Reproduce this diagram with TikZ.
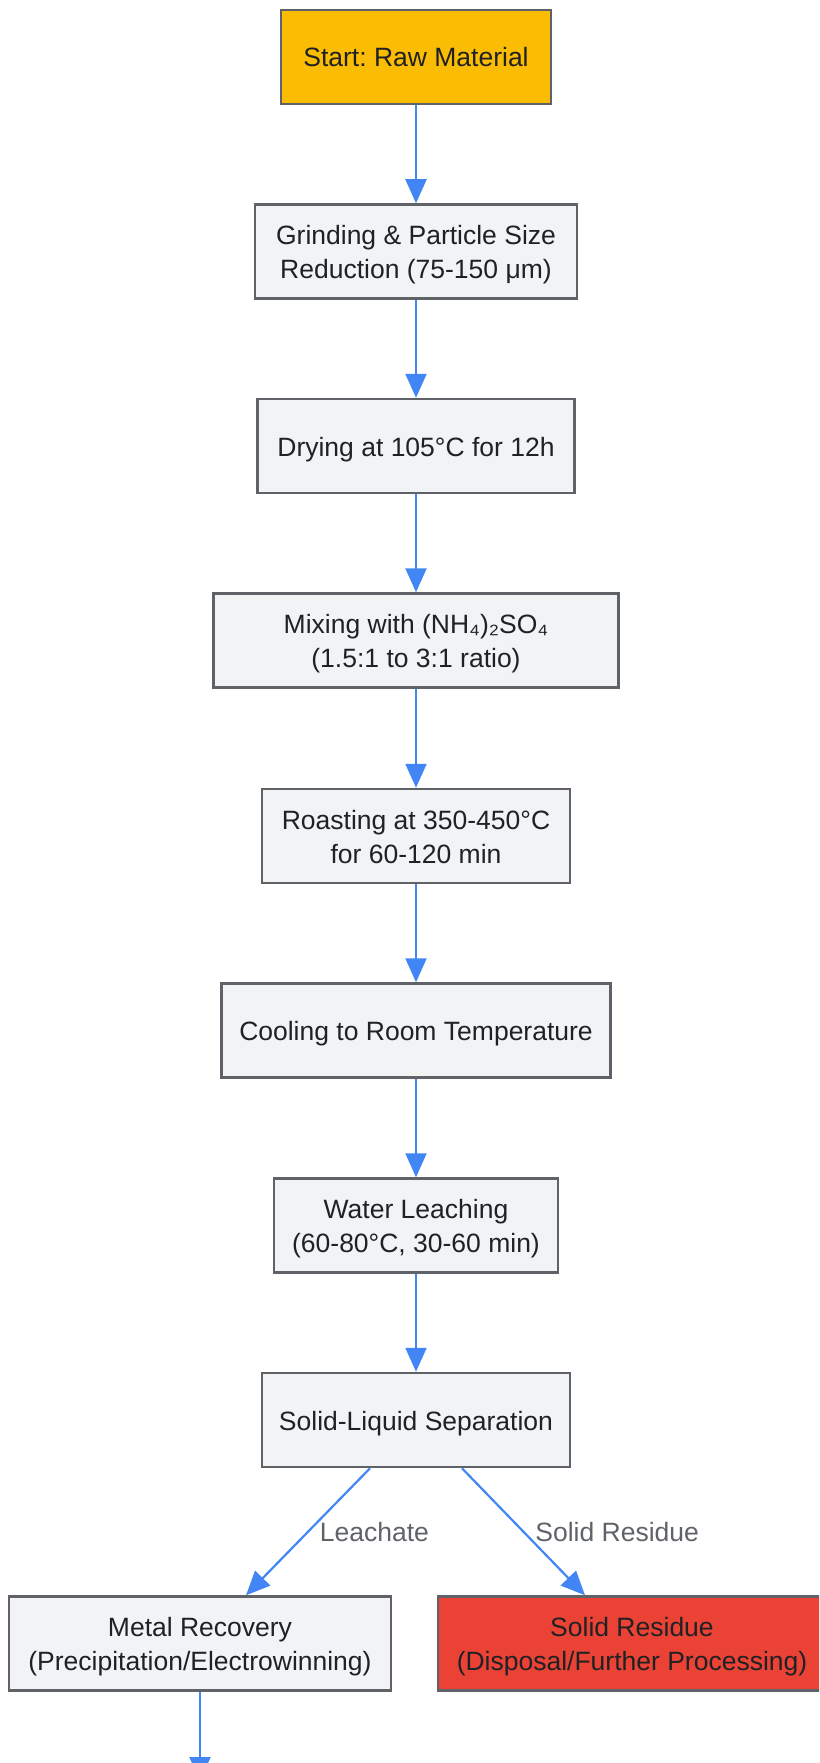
\documentclass[tikz,border=0pt]{standalone}
\usepackage{fontspec}
\setmainfont{Liberation Sans}
\usetikzlibrary{arrows.meta}
\frenchspacing

\definecolor{stepfill}{HTML}{F1F3F4}
\definecolor{startfill}{HTML}{FBBC04}
\definecolor{residuered}{HTML}{EA4335}
\definecolor{boxline}{HTML}{5F6368}
\definecolor{boxtext}{HTML}{202124}
\definecolor{flowblue}{HTML}{4285F4}
\definecolor{labelgray}{HTML}{5F6368}

\tikzset{
  box/.style={draw=boxline, line width=2.5pt, fill=stepfill, text=boxtext,
    align=center, minimum height=94pt, inner sep=0pt,
    text height=26pt, text depth=6pt,
    font=\fontsize{26.5}{34}\selectfont},
  twoline/.style={text height=60pt},
  flow/.style={draw=flowblue, line width=2.2pt,
    -{Triangle[length=24pt,width=21pt]}},
  edgelabel/.style={text=labelgray, font=\fontsize{26.5}{34}\selectfont}
}

\begin{document}
\begin{tikzpicture}[x=1pt, y=-1pt]
\useasboundingbox (0,0) rectangle (819,1763);
\clip (0,0) rectangle (819,1763);

% main steps
\node[box, fill=startfill, minimum width=270pt] (start) at (416,57) {Start: Raw Material};
\node[box, twoline, minimum width=322pt] (grind) at (416,251.5) {Grinding \& Particle Size\\Reduction (75-150 μm)};
\node[box, minimum width=317pt] (dry) at (416,446) {Drying at 105°C for 12h};
\node[box, twoline, minimum width=405pt] (mix) at (416,640.5) {Mixing with (NH₄)₂SO₄\\(1.5:1 to 3:1 ratio)};
\node[box, twoline, minimum width=308pt] (roast) at (416,836) {Roasting at 350-450°C\\for 60-120 min};
\node[box, minimum width=389pt] (cool) at (416,1030.5) {Cooling to Room Temperature};
\node[box, twoline, minimum width=284pt] (leach) at (416,1225.5) {Water Leaching\\(60-80°C, 30-60 min)};
\node[box, minimum width=308pt] (sep) at (416,1420) {Solid-Liquid Separation};

% the two outputs
\node[box, twoline, minimum width=382pt] (metal) at (200,1643.5) {Metal Recovery\\(Precipitation/Electrowinning)};
\node[box, twoline, fill=residuered, minimum width=388pt] (residue) at (632,1643.5) {Solid Residue\\(Disposal/Further Processing)};
\coordinate (next) at (200,1781);

\foreach \a/\b in {start/grind, grind/dry, dry/mix, mix/roast, roast/cool, cool/leach, leach/sep}
  \draw[flow] (\a) -- (\b);

\draw[flow] ([xshift=-46pt]sep.south) -- ([xshift=46pt]metal.north)
  node[edgelabel, midway, anchor=west, xshift=7.5pt] {Leachate};
\draw[flow] ([xshift=46pt]sep.south) -- ([xshift=-47pt]residue.north)
  node[edgelabel, midway, anchor=west, xshift=7.5pt] {Solid Residue};
\draw[flow] (metal) -- (next);
\end{tikzpicture}
\end{document}
